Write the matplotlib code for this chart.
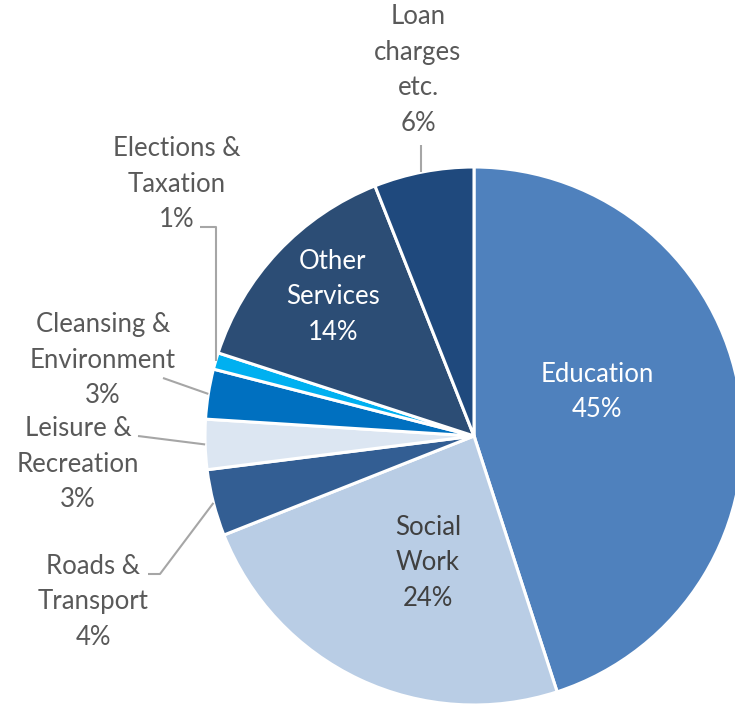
import numpy as np
import matplotlib.pyplot as plt

# spending shares, clockwise from 12 o'clock
categories = ["Education", "Social\nWork", "Roads &\nTransport", "Leisure &\nRecreation",
              "Cleansing &\nEnvironment", "Elections &\nTaxation", "Other\nServices",
              "Loan\ncharges\netc."]
shares = [45, 24, 4, 3, 3, 1, 14, 6]
colors = ["#4F81BD", "#B9CDE5", "#335E93", "#DCE6F2", "#0070C0", "#00B0F0", "#2C4D75", "#1F497D"]

W, H = 735, 709
cx, cy, R = 474, 436, 269  # pie centre and radius in pixels


def px(x, y):
    # pixel position (from top-left) -> data units with the pie at the origin, radius 1
    return (x - cx) / R, (cy - y) / R


plt.rcParams["font.family"] = ["Lato", "DejaVu Sans"]

fig = plt.figure(figsize=(W / 100, H / 100), dpi=100)
ax = fig.add_axes([0, 0, 1, 1])

wedges, _ = ax.pie(shares, colors=colors, startangle=90, counterclock=False,
                   radius=1, center=(0, 0), frame=True,
                   wedgeprops=dict(edgecolor="white", linewidth=2.2))
ax.set_xlim(-cx / R, (W - cx) / R)
ax.set_ylim(-(H - cy) / R, cy / R)
ax.axis("off")

fs = 18.5
lsp = 1.53
grey_txt = "#595959"
line_c = "#A6A6A6"

# labels inside the slices
inside = {0: (597, 392, "white"), 1: (428, 563, "#404040"), 6: (333, 297, "white")}
for i, (x, y, c) in inside.items():
    tx, ty = px(x, y)
    ax.text(tx, ty, f"{categories[i]}\n{shares[i]}%", ha="center", va="center",
            color=c, fontsize=fs, linespacing=lsp)

# labels outside with leader lines: text centre, then leader path (pixels) ending at the slice
outside = {
    7: ((418, 70), [(421, 145)]),
    5: ((177, 184), [(200, 227), (216, 227)]),
    4: ((103, 360), [(163, 378)]),
    3: ((78, 464), [(138, 436)]),
    2: ((93, 602), [(148, 574), (160, 574)]),
}
for i, ((x, y), path) in outside.items():
    tx, ty = px(x, y)
    ax.text(tx, ty, f"{categories[i]}\n{shares[i]}%", ha="center", va="center",
            color=grey_txt, fontsize=fs, linespacing=lsp)
    w = wedges[i]
    mid = np.deg2rad((w.theta1 + w.theta2) / 2)
    end = (np.cos(mid) * 1.0, np.sin(mid) * 1.0)
    pts = [px(a, b) for a, b in path]
    if i == 5:
        # elbow drops straight down to the thin slice
        pts.append((pts[-1][0], end[1]))
    elif i == 7:
        end = (pts[0][0], np.sqrt(1 - pts[0][0] ** 2))
    pts.append(end)
    xs, ys = zip(*pts)
    ax.plot(xs, ys, color=line_c, lw=1.5, solid_capstyle="butt")

fig.savefig("out.png", dpi=100)
